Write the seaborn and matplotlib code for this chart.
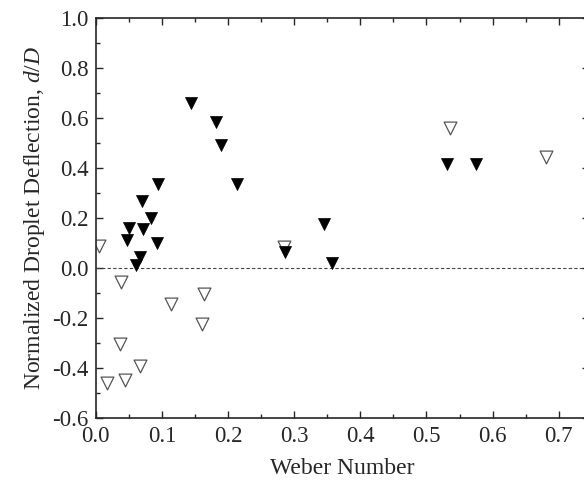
import numpy as np
import pandas as pd
import matplotlib
matplotlib.use("Agg")
import matplotlib.pyplot as plt
from matplotlib.ticker import MultipleLocator
import seaborn as sns

# filled triangles
we_filled = [0.1437, 0.1825, 0.189, 0.213, 0.094, 0.0705, 0.0837, 0.0509, 0.0716,
             0.0469, 0.0923, 0.067, 0.0605, 0.531, 0.575, 0.345, 0.2864, 0.3565]
dd_filled = [0.66, 0.582, 0.49, 0.334, 0.334, 0.267, 0.20, 0.158, 0.155,
             0.111, 0.098, 0.042, 0.011, 0.415, 0.415, 0.176, 0.064, 0.018]

# open triangles
we_open = [0.536, 0.68, 0.284, 0.0045, 0.0378, 0.1135, 0.0368, 0.067, 0.0439,
           0.0176, 0.163, 0.161]
dd_open = [0.559, 0.444, 0.084, 0.088, -0.058, -0.146, -0.304, -0.392, -0.448,
           -0.462, -0.106, -0.225]

df_f = pd.DataFrame({"we": we_filled, "dd": dd_filled})
df_o = pd.DataFrame({"we": we_open, "dd": dd_open})

sns.set_style("ticks")
plt.rcParams["font.family"] = ["Liberation Serif", "DejaVu Serif"]
plt.rcParams["mathtext.fontset"] = "custom"
plt.rcParams["mathtext.it"] = "Liberation Serif:italic"
plt.rcParams["mathtext.rm"] = "Liberation Serif"

fig = plt.figure(figsize=(5.84, 4.8), dpi=100)
ax = fig.add_axes([0.1639, 0.1292, 0.845, 0.8333])

ax.axhline(0, color="#444444", lw=0.8, ls=(0, (3, 2)), zorder=1)
sns.scatterplot(data=df_o, x="we", y="dd", marker="v", s=85, facecolor="white",
                edgecolor="#555555", linewidth=0.9, ax=ax, zorder=2)
sns.scatterplot(data=df_f, x="we", y="dd", marker="v", s=75, color="black",
                edgecolor="black", linewidth=0.5, ax=ax, zorder=3)

ax.set_xlim(0, 0.746)
ax.set_ylim(-0.6, 1.0)
ax.xaxis.set_major_locator(MultipleLocator(0.1))
ax.xaxis.set_minor_locator(MultipleLocator(0.05))
ax.yaxis.set_major_locator(MultipleLocator(0.2))
ax.yaxis.set_minor_locator(MultipleLocator(0.1))
ax.xaxis.set_major_formatter(matplotlib.ticker.FormatStrFormatter("%.1f"))
ax.yaxis.set_major_formatter(matplotlib.ticker.FormatStrFormatter("%.1f"))
ax.tick_params(which="both", direction="in", top=True, right=True, width=1.0,
               labelsize=16.5)
ax.tick_params(axis="x", pad=6)
ax.tick_params(axis="y", pad=5)
ax.tick_params(which="major", length=5)
ax.tick_params(which="minor", length=3)
for sp in ax.spines.values():
    sp.set_linewidth(1.2)

ax.set_xlabel("Weber Number", fontsize=17, labelpad=8)
ax.set_ylabel("Normalized Droplet Deflection, $d/D$", fontsize=17, labelpad=4)

fig.savefig("out.png", dpi=100)
